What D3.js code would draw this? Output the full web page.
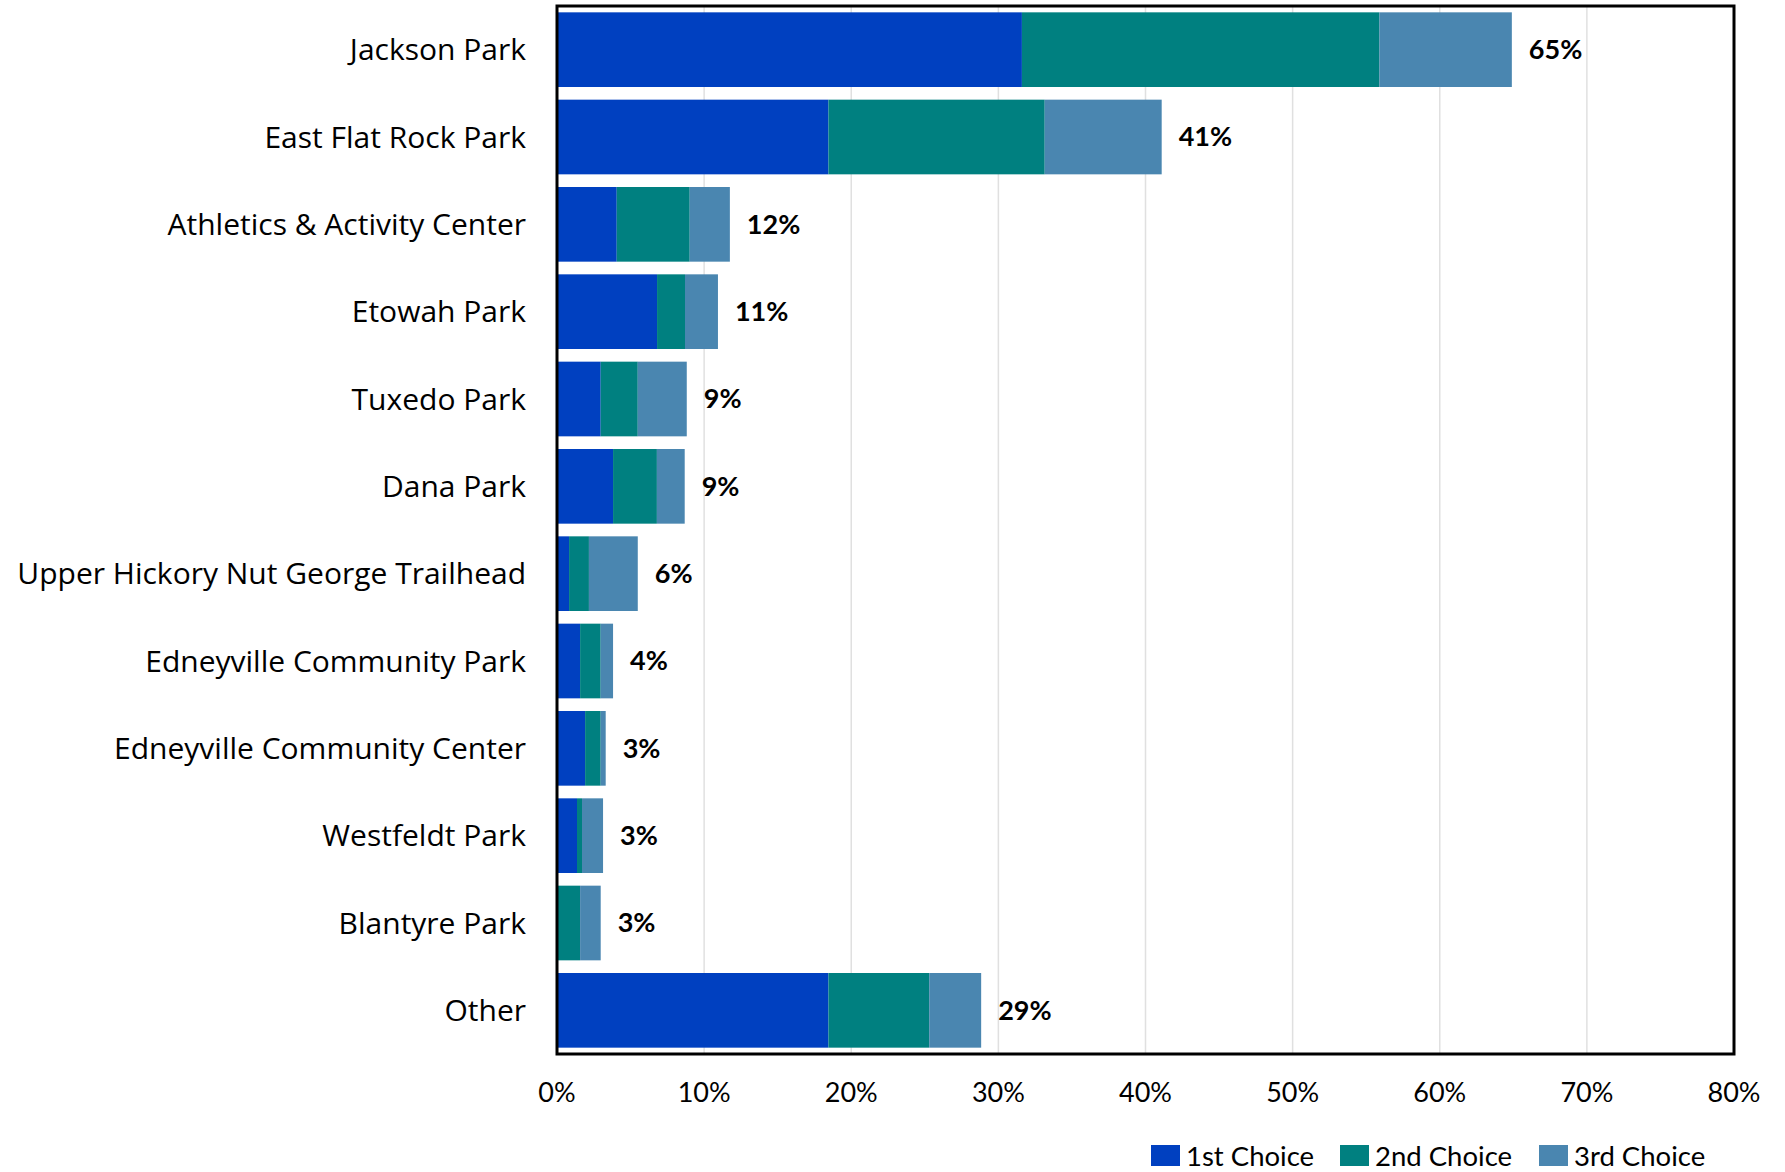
<!DOCTYPE html>
<html><head><meta charset="utf-8">
<script src="https://cdn.jsdelivr.net/npm/d3@7"></script>
<style>
html,body{margin:0;padding:0;background:#fff;}
svg{display:block;}
text{font-family:Lato,"Open Sans",sans-serif;fill:#000;}
</style></head>
<body><svg id="c" width="1785" height="1172"></svg>
<script>
const categories = ["Jackson Park","East Flat Rock Park","Athletics & Activity Center","Etowah Park","Tuxedo Park","Dana Park","Upper Hickory Nut George Trailhead","Edneyville Community Park","Edneyville Community Center","Westfeldt Park","Blantyre Park","Other"];
const firstChoice  = [31.6, 18.45, 4.06, 6.8, 2.97, 3.81, 0.82, 1.57, 1.91, 1.36, 0.0, 18.45];
const secondChoice = [24.3, 14.7, 4.96, 1.9, 2.52, 2.98, 1.35, 1.40, 1.06, 0.34, 1.57, 6.85];
const thirdChoice  = [9.0, 7.95, 2.73, 2.24, 3.33, 1.89, 3.32, 0.84, 0.34, 1.43, 1.40, 3.53];
const totalLabels  = ["65%","41%","12%","11%","9%","9%","6%","4%","3%","3%","3%","29%"];
const seriesNames  = ["1st Choice","2nd Choice","3rd Choice"];
const seriesColors = ["#0040C0","#008080","#4A86B0"];
const xTicks = [0,10,20,30,40,50,60,70,80];

const svg = d3.select("#c");
const m = {left:557, right:1734, top:6, bottom:1054};
const x = d3.scaleLinear().domain([0,80]).range([m.left,m.right]);
const y = d3.scaleBand().domain(categories).range([m.top,m.bottom]).paddingInner(0.145).paddingOuter(0.0725);

// gridlines
svg.append("g").selectAll("line").data(xTicks.slice(1,-1)).join("line")
  .attr("x1",d=>x(d)).attr("x2",d=>x(d)).attr("y1",m.top).attr("y2",m.bottom)
  .attr("stroke","#e0e0e0").attr("stroke-width",1.5);

const stackData = categories.map((c,i)=>({cat:c, s0:firstChoice[i], s1:secondChoice[i], s2:thirdChoice[i]}));
const stack = d3.stack().keys(["s0","s1","s2"])(stackData);

svg.append("g").selectAll("g").data(stack).join("g")
  .attr("fill",(d,i)=>seriesColors[i])
  .selectAll("rect").data(d=>d).join("rect")
  .attr("x",d=>x(d[0])).attr("width",d=>Math.max(0,x(d[1])-x(d[0])))
  .attr("y",d=>y(d.data.cat)).attr("height",y.bandwidth());

// value labels
svg.append("g").selectAll("text").data(stack[2]).join("text")
  .attr("x",d=>x(d[1])+17).attr("y",d=>y(d.data.cat)+y.bandwidth()/2)
  .attr("dy","0.35em").attr("font-weight","bold").attr("font-size",27)
  .text((d,i)=>totalLabels[i]);

// category labels
svg.append("g").selectAll("text").data(categories).join("text")
  .attr("x",526).attr("y",d=>y(d)+y.bandwidth()/2).attr("dy","0.35em")
  .attr("text-anchor","end").attr("font-size",30)
  .style("font-family","'Open Sans',sans-serif").text(d=>d);

// frame
svg.append("rect").attr("x",m.left).attr("y",m.top).attr("width",m.right-m.left).attr("height",m.bottom-m.top)
  .attr("fill","none").attr("stroke","#000").attr("stroke-width",3);

// x tick labels
svg.append("g").selectAll("text").data(xTicks).join("text")
  .attr("x",d=>x(d)).attr("y",1093).attr("dy","0.35em").attr("text-anchor","middle")
  .attr("font-size",27).text(d=>d+"%");

// legend
const legX = [1151,1340,1539];
const leg = svg.append("g").selectAll("g").data(seriesNames).join("g")
  .attr("transform",(d,i)=>`translate(${legX[i]},1145)`);
leg.append("rect").attr("width",29).attr("height",21).attr("fill",(d,i)=>seriesColors[i]);
leg.append("text").attr("x",35).attr("y",11).attr("dy","0.35em").attr("font-size",27.5).text(d=>d);
</script></body></html>
